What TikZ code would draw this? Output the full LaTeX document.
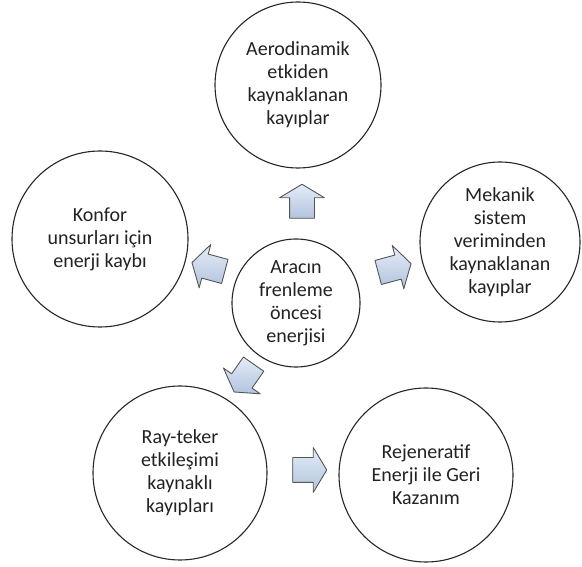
\documentclass[tikz,border=0pt]{standalone}
\usepackage{fontspec}
\setmainfont{Carlito}
\usetikzlibrary{shapes.arrows}
\definecolor{arrtop}{HTML}{E4ECF7}
\definecolor{arrbot}{HTML}{B2C3DE}
\definecolor{arrline}{HTML}{555555}
\definecolor{txt}{HTML}{222222}
\tikzset{
  circ/.style={circle, draw=black!85, line width=1.1pt, fill=white, align=center,
    inner sep=0pt, font=\fontsize{20}{23}\selectfont, text=txt},
  blk/.style={single arrow, draw=arrline, line width=0.9pt, top color=arrtop, bottom color=arrbot,
    minimum height=34pt, inner xsep=0pt, inner ysep=12pt, single arrow head extend=10pt,
    single arrow tip angle=118, line join=round}
}
\begin{document}
\begin{tikzpicture}[x=1pt,y=1pt]
\useasboundingbox (0,0) rectangle (582,566);
\node[circ, minimum size=166pt] (T) at (298,481) {Aerodinamik\\etkiden\\kaynaklanan\\kayıplar};
\node[circ, minimum size=176pt] (K) at (100,327) {Konfor\\unsurları için\\enerji kaybı};
\node[circ, minimum size=160pt] (M) at (500,324) {Mekanik\\sistem\\veriminden\\kaynaklanan\\kayıplar};
\node[circ, minimum size=128pt] (C) at (296,263) {Aracın\\frenleme\\öncesi\\enerjisi};
\node[circ, minimum size=174pt] (R) at (180,93) {Ray-teker\\etkileşimi\\kaynaklı\\kayıpları};
\node[circ, minimum size=174pt] (G) at (426,91) {Rejeneratif\\Enerji ile Geri\\Kazanım};
\node[blk, rotate=90] (a1) at (302,361) {};
\node[blk, rotate=165] (a2) at (212,298) {};
\node[blk, rotate=15] (a3) at (391,297) {};
\node[blk, rotate=235] (a4) at (246,191) {};
\node[blk] (a5) at (306,96) {};
\end{tikzpicture}
\end{document}
